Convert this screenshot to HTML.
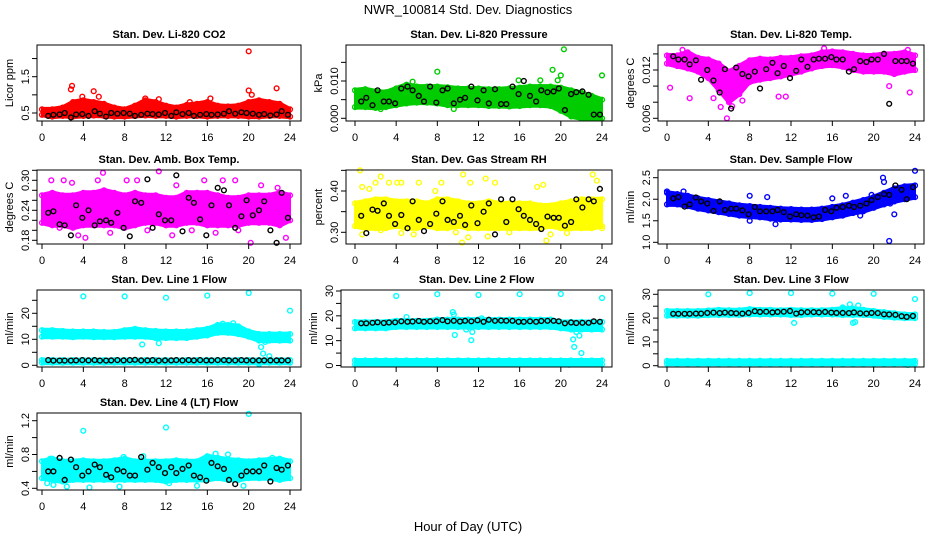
<!DOCTYPE html>
<html><head><meta charset="utf-8">
<style>
html,body{margin:0;padding:0;background:#fff;}
svg{display:block;font-family:"Liberation Sans",Arial,sans-serif;}
</style></head>
<body>
<svg id="chart" width="936" height="540" viewBox="0 0 936 540">
<rect x="0" y="0" width="936" height="540" fill="#fff"/>
<text x="468" y="14" text-anchor="middle" font-size="13">NWR_100814 Std. Dev. Diagnostics</text>
<text x="468" y="531" text-anchor="middle" font-size="13">Hour of Day (UTC)</text>
</svg>
<script>
// shared x values
const hours = [0,1,2,3,4,5,6,7,8,9,10,11,12,13,14,15,16,17,18,19,20,21,22,23,24];
const blkX = [0.6,1.1,1.7,2.2,2.8,3.3,3.9,4.5,5.1,5.6,6.2,6.7,7.3,7.9,8.5,9.0,9.6,10.2,10.7,11.3,11.9,12.5,13.0,13.6,14.2,14.7,15.3,15.9,16.4,17.0,17.6,18.1,18.7,19.3,19.8,20.4,21.0,21.5,22.1,22.7,23.2,23.8];
const xTicks = [0,4,8,12,16,20,24];

// P1 CO2
const p1Hi = [0.6,0.6,0.65,0.8,0.85,0.8,0.75,0.65,0.6,0.7,0.85,0.8,0.7,0.65,0.72,0.75,0.8,0.7,0.68,0.7,0.8,0.85,0.8,0.75,0.6];
const p1Lo = [0.45,0.4,0.42,0.4,0.42,0.43,0.42,0.4,0.4,0.42,0.43,0.42,0.42,0.4,0.42,0.42,0.4,0.42,0.42,0.42,0.4,0.4,0.42,0.42,0.4];
const p1Ox = [2.8,2.9,5,3.9,10,11.3,16.3,20,20,20.3,22.7,14.3,5.5];
const p1Oy = [1.15,1.25,1.1,0.95,0.9,0.88,0.9,2.2,1.12,1.0,1.18,0.8,0.95];
const p1Blk = [0.42,0.45,0.46,0.5,0.38,0.46,0.47,0.42,0.55,0.48,0.4,0.5,0.48,0.5,0.48,0.42,0.45,0.48,0.47,0.46,0.5,0.42,0.52,0.47,0.5,0.42,0.45,0.47,0.45,0.46,0.48,0.55,0.48,0.52,0.5,0.48,0.45,0.47,0.43,0.46,0.55,0.45];
// P2 Pressure
const p2Hi = [0.0075,0.0078,0.0072,0.007,0.008,0.009,0.0085,0.0085,0.0085,0.0083,0.008,0.008,0.008,0.0078,0.0078,0.008,0.0082,0.0085,0.0085,0.0085,0.0082,0.0075,0.0068,0.006,0.005];
const p2Lo = [0.003,0.003,0.0028,0.003,0.0035,0.004,0.0042,0.0042,0.004,0.0035,0.0035,0.0035,0.0035,0.0033,0.0033,0.0032,0.0033,0.0035,0.0035,0.0033,0.002,0.0005,0.0,0.0,0.0];
const p2Ox = [8,19.2,20.3,24,15.9,18,19.7,20,5.6,9.6,2.5];
const p2Oy = [0.0125,0.013,0.0185,0.0115,0.0102,0.0102,0.0102,0.0115,0.0098,0.0025,0.0025];
const p2Blk = [0.0045,0.0055,0.0035,0.0075,0.0045,0.0045,0.004,0.008,0.0085,0.0075,0.006,0.0045,0.0085,0.0042,0.0075,0.008,0.004,0.005,0.0055,0.0085,0.0048,0.0075,0.004,0.0078,0.0038,0.0038,0.0085,0.0065,0.01,0.006,0.0045,0.0075,0.007,0.0072,0.008,0.0022,0.0065,0.007,0.0072,0.0063,0.001,0.001];
// P3 Li-820 Temp
const p3Hi = [0.0138,0.0138,0.0142,0.0135,0.0133,0.0128,0.0118,0.0125,0.0132,0.0134,0.0133,0.0135,0.0135,0.0137,0.0138,0.0142,0.0143,0.0142,0.0140,0.0138,0.0138,0.0140,0.0140,0.0142,0.0138];
const p3Lo = [0.0128,0.0125,0.0122,0.0118,0.0110,0.0095,0.0080,0.0090,0.0105,0.0108,0.0110,0.0112,0.0115,0.0118,0.0122,0.0125,0.0126,0.0124,0.0120,0.0118,0.0118,0.0118,0.0115,0.0118,0.0120];
const p3Ox = [0.3,2.2,5.8,4.5,5.2,6.3,7.3,10.8,11.5,21.5,23.5,15.2,1.5,23.3];
const p3Oy = [0.0098,0.0085,0.006,0.0085,0.0074,0.0075,0.0082,0.0087,0.0087,0.0100,0.0092,0.0147,0.0145,0.0145];
const p3Blk = [0.0137,0.0133,0.0133,0.0127,0.0132,0.0108,0.012,0.0107,0.0092,0.0121,0.0072,0.0123,0.0115,0.0112,0.0118,0.0097,0.0121,0.0129,0.0116,0.0125,0.0110,0.0119,0.0133,0.0124,0.0133,0.0134,0.0134,0.0136,0.0133,0.0133,0.0118,0.0121,0.0131,0.013,0.0133,0.0133,0.0140,0.0078,0.0131,0.0131,0.0131,0.0128];
// P4 Amb Box Temp
const p4Hi = [0.27,0.275,0.27,0.27,0.275,0.275,0.28,0.275,0.27,0.275,0.27,0.27,0.265,0.265,0.275,0.275,0.275,0.27,0.265,0.265,0.27,0.27,0.27,0.275,0.27];
const p4Lo = [0.215,0.21,0.21,0.205,0.21,0.21,0.21,0.21,0.205,0.21,0.215,0.215,0.21,0.21,0.215,0.215,0.21,0.21,0.21,0.21,0.215,0.215,0.215,0.21,0.22];
const p4Ox = [0.9,2.1,2.9,3.5,5.9,5.4,8.2,9.2,11.3,12.6,13,15.7,17.5,18.7,20.2,23.6,22.8,6.6,1.7,14.5,10.2,19,4.2,16.8,21.2];
const p4Oy = [0.30,0.30,0.295,0.19,0.315,0.30,0.30,0.30,0.318,0.19,0.29,0.30,0.30,0.30,0.175,0.185,0.285,0.195,0.205,0.2,0.2,0.2,0.185,0.195,0.29];
const p4Blk = [0.235,0.238,0.212,0.21,0.19,0.25,0.225,0.24,0.21,0.218,0.22,0.215,0.235,0.205,0.188,0.258,0.255,0.302,0.205,0.232,0.22,0.22,0.31,0.198,0.265,0.255,0.222,0.19,0.25,0.285,0.28,0.25,0.205,0.228,0.26,0.23,0.24,0.258,0.2,0.175,0.275,0.225];
// P5 Gas Stream RH
const p5Hi = [0.37,0.375,0.38,0.38,0.375,0.375,0.375,0.37,0.38,0.38,0.375,0.37,0.37,0.375,0.37,0.37,0.37,0.37,0.365,0.365,0.37,0.375,0.38,0.38,0.38];
const p5Lo = [0.315,0.31,0.31,0.31,0.315,0.31,0.31,0.315,0.31,0.31,0.315,0.31,0.31,0.31,0.31,0.31,0.31,0.31,0.31,0.315,0.31,0.31,0.31,0.31,0.315];
const p5Ox = [0.5,0.7,1.4,2.5,3.3,4.1,4.5,6.2,8.4,10.5,11.2,12.7,13.6,18.3,23.1,23.5,0.7,2.5,4.5,5.7,9.8,10.4,11,12.9,15,18.6,19,20.6,24,7.8,17.7,2];
const p5Oy = [0.45,0.41,0.405,0.435,0.42,0.42,0.42,0.42,0.42,0.44,0.42,0.43,0.42,0.415,0.44,0.425,0.295,0.305,0.298,0.295,0.3,0.275,0.288,0.29,0.3,0.28,0.295,0.298,0.31,0.4,0.41,0.42];
const p5Blk = [0.34,0.298,0.355,0.352,0.37,0.34,0.32,0.342,0.31,0.375,0.33,0.303,0.32,0.345,0.375,0.33,0.325,0.34,0.318,0.365,0.322,0.35,0.37,0.295,0.38,0.325,0.38,0.356,0.34,0.33,0.32,0.308,0.338,0.335,0.335,0.316,0.325,0.38,0.36,0.38,0.375,0.405];
// P6 Sample Flow
const p6Hi = [2.15,2.12,2.08,2.02,1.98,1.94,1.9,1.86,1.84,1.82,1.8,1.78,1.77,1.76,1.76,1.78,1.82,1.86,1.92,1.98,2.05,2.15,2.25,2.3,2.32];
const p6Lo = [1.88,1.88,1.84,1.78,1.74,1.7,1.66,1.62,1.6,1.58,1.55,1.53,1.53,1.52,1.52,1.54,1.58,1.62,1.68,1.72,1.8,1.88,1.95,2.0,2.05];
const p6Ox = [0,1.6,8,9.7,10.5,16,17.3,19.8,20.9,21,21.5,22,21.6,24,23.8,8,18.7];
const p6Oy = [2.18,2.18,2.08,2.05,1.42,2.02,2.08,2.1,2.5,2.4,1.03,1.65,1.9,2.66,2.3,1.5,1.62];
const p6Blk = [2.02,2.05,1.83,1.88,2.04,1.95,1.9,1.73,1.95,1.75,1.78,1.78,1.74,1.65,1.82,1.72,1.72,1.72,1.75,1.7,1.6,1.65,1.63,1.62,1.58,1.6,1.75,1.72,1.8,1.82,1.85,1.82,1.85,1.9,1.98,2.05,2.12,2.1,2.32,2.22,2.0,2.28];
// P7 Line 1 Flow
const p7Hi = [13.5,13.5,13.2,13,13,13,12.8,12.8,13.5,14,13.5,13.2,13,13,13,13.5,14,15.5,15.5,15,13,12,12,12,12];
const p7Lo = [11,11,11,10.8,11,10.8,10.8,10.8,11,11,11,10.5,10.5,10.5,10.5,11,11.5,12.5,12.5,12,11,9.5,9.5,9.5,9.5];
const p7Hi2 = [2,2,2,2,2,2,2,2,2,2,2,2,2,2,2,2,2,2,2,2,2,2,2,2,2];
const p7Lo2 = [1,1,1,1,1,1,1,1,1,1,1,1,1,1,1,1,1,1,1,1,1,1,1,1,1];
const p7Ox = [4,8,12,16,20,24,9.7,11.3,21.2,21.4,22,21.6,21,17.5,18.5];
const p7Oy = [26.5,26.5,26,26.8,27.8,21,8,8.5,7,4.5,3.5,9,0.5,16,16.2];
const p7Blk = [2,1.8,1.8,1.8,1.8,1.9,2,1.9,2,1.8,1.8,1.9,2,1.9,2,2.1,1.9,1.9,2,1.8,1.9,1.9,2,1.9,2,1.9,2,1.9,1.9,2,2,1.9,1.9,2,1.9,1.9,1.9,1.9,1.9,1.9,1.9,1.9];
// P8 Line 2 Flow
const p8Hi = [17.5,17.5,17.5,17.5,18,18,18,18,18.5,18.5,18.5,18.5,18.5,18.5,18.5,18.5,18.5,18.5,18.5,18.5,17.5,17.5,17.5,17.5,17.5];
const p8Lo = [15,15,15,15,15.5,15.5,15.5,15.5,15.5,15.5,15.5,15.5,15.5,15.5,15.5,15.5,15.5,15.5,15.5,15.5,15,14.5,14.5,14.5,14.5];
const p8Hi2 = [2,2,2,2,2,2,2,2,2,2,2,2,2,2,2,2,2,2,2,2,2,2,2,2,2];
const p8Lo2 = [0.5,0.5,0.5,0.5,0.5,0.5,0.5,0.5,0.5,0.5,0.5,0.5,0.5,0.5,0.5,0.5,0.5,0.5,0.5,0.5,0.5,0.5,0.5,0.5,0.5];
const p8Ox = [4,8,12,16,20,24,9.5,9.6,5,9.7,11.3,11.4,10.8,21.2,21.3,22,21.5,21.8,20.8,12.3];
const p8Oy = [28,28.7,28.4,28.7,28.8,27.2,21.5,20.5,19.5,12.3,10.2,13.5,14.5,10.5,7.5,5,13.5,12,0.3,19];
const p8Blk = [17,17,17.2,17.4,17.1,17.3,17.4,17.8,17.6,17.7,17.9,17.6,17.8,17.8,18.3,17.8,18,17.7,18,17.8,18.2,17.6,18.4,18,18.1,18,18,17.6,17.6,17.8,17.6,17.9,18,18,17.8,17,17.3,17.1,17.2,17.2,17.8,17.6];
// P9 Line 3 Flow
const p9Hi = [23,23,23,23,23.2,23.5,23.3,23.3,23.8,23.5,23.5,23.3,23.5,23.3,23.3,23.3,23.5,24,24,23.5,23,22.5,22,21.5,21.5];
const p9Lo = [21,21,21,21,21.2,21.3,21.3,21.3,21.5,21.5,21.5,21.5,21.3,21.3,21.5,21.5,21.5,21.3,21.3,21.3,21,20.5,20.2,20,20];
const p9Hi2 = [2,2,2,2,2,2,2,2,2,2,2,2,2,2,2,2,2,2,2,2,2,2,2,2,2];
const p9Lo2 = [0.8,0.8,0.8,0.8,0.8,0.8,0.8,0.8,0.8,0.8,0.8,0.8,0.8,0.8,0.8,0.8,0.8,0.8,0.8,0.8,0.8,0.8,0.8,0.8,0.8];
const p9Ox = [4,8,12,16,20,24,12.3,18,18.2,17.7,18.5,17,23.3];
const p9Oy = [30,30.5,30.5,30.3,30.2,28,18,18,18.3,25.8,25.3,24.5,0.3];
const p9Blk = [21.8,21.8,21.8,21.8,21.9,21.9,22.2,22.3,22.1,22.3,22.2,22,21.9,22.2,22.9,22.6,22.7,22.4,22.6,22.7,23,21.9,22.4,22.5,22.5,22.4,22.6,22.3,22.2,22.2,22.1,22.4,22,21.9,22.2,22.1,21.6,21.5,21.4,20.8,20.5,20.9];
// P10 Line 4 (LT) Flow
const p10Hi = [0.72,0.75,0.72,0.72,0.73,0.72,0.72,0.73,0.75,0.72,0.72,0.72,0.72,0.73,0.72,0.72,0.78,0.76,0.74,0.73,0.72,0.73,0.74,0.75,0.72];
const p10Lo = [0.52,0.5,0.48,0.5,0.5,0.5,0.5,0.5,0.5,0.5,0.5,0.5,0.48,0.5,0.5,0.5,0.5,0.52,0.5,0.5,0.52,0.52,0.52,0.5,0.52];
const p10Ox = [4,12,20,2.4,4.6,7.5,15,19.5,0.5,1.1,12.3,0.8,9.8,16.8,18,7.9,22.3];
const p10Oy = [1.08,1.12,1.28,0.42,0.41,0.42,0.43,0.43,0.46,0.44,0.46,0.75,0.78,0.81,0.8,0.77,0.76];
const p10Blk = [0.6,0.6,0.76,0.5,0.74,0.65,0.55,0.6,0.68,0.65,0.56,0.53,0.62,0.6,0.55,0.55,0.77,0.62,0.7,0.65,0.58,0.65,0.58,0.63,0.67,0.55,0.53,0.49,0.7,0.66,0.63,0.5,0.45,0.55,0.6,0.6,0.6,0.67,0.48,0.64,0.62,0.67];

// tick values and labels
const p1Ticks = [0.5,1,1.5,2], p1Labels = ['0.5','','1.5',''];
const p2Ticks = [0,0.005,0.01,0.015], p2Labels = ['0.000','','0.010',''];
const p3Ticks = [0.006,0.008,0.01,0.012,0.014], p3Labels = ['0.006','','','0.012',''];
const p4Ticks = [0.18,0.2,0.22,0.24,0.26,0.28,0.3,0.32], p4Labels = ['0.18','','','0.24','','','0.30',''];
const p5Ticks = [0.3,0.35,0.4,0.45], p5Labels = ['0.30','','0.40',''];
const p6Ticks = [1,1.5,2,2.5], p6Labels = ['1.0','1.5','2.0','2.5'];
const p7Ticks = [0,5,10,15,20,25], p7Labels = ['0','','10','','20',''];
const p8Ticks = [0,5,10,15,20,25,30], p8Labels = ['0','','10','','20','','30'];
const p9Ticks = [0,5,10,15,20,25,30], p9Labels = ['0','','10','','20','','30'];
const p10Ticks = [0.4,0.6,0.8,1,1.2], p10Labels = ['0.4','','0.8','','1.2'];

const NS = 'http://www.w3.org/2000/svg';
const svg = document.getElementById('chart');
function mk(tag, attrs, parent) {
  const e = document.createElementNS(NS, tag);
  for (const k in attrs) e.setAttribute(k, attrs[k]);
  (parent || svg).appendChild(e);
  return e;
}

const panels = [
 {key:'co2', title:'Stan. Dev. Li-820 CO2', ylab:'Licor ppm', box:[37,45,301,121], x0:42, x24:290, r1:[0.5,113], r2:[1.5,76.7], color:'#ff0000', bands:[[p1Lo,p1Hi]], ox:p1Ox, oy:p1Oy, blk:p1Blk, ticks:p1Ticks, labels:p1Labels},
 {key:'pressure', title:'Stan. Dev. Li-820 Pressure', ylab:'kPa', box:[346,45,612,121], x0:355, x24:602, r1:[0,118.3], r2:[0.01,81], color:'#00cc00', bands:[[p2Lo,p2Hi]], ox:p2Ox, oy:p2Oy, blk:p2Blk, ticks:p2Ticks, labels:p2Labels},
 {key:'li-temp', title:'Stan. Dev. Li-820 Temp.', ylab:'degrees C', box:[658,45,924,121], x0:667, x24:915, r1:[0.006,118.3], r2:[0.012,70], color:'#ff00ff', bands:[[p3Lo,p3Hi]], ox:p3Ox, oy:p3Oy, blk:p3Blk, ticks:p3Ticks, labels:p3Labels},
 {key:'amb-box-temp', title:'Stan. Dev. Amb. Box Temp.', ylab:'degrees C', box:[37,170,301,244], x0:42, x24:290, r1:[0.30,180.3], r2:[0.18,240.3], color:'#ff00ff', bands:[[p4Lo,p4Hi]], ox:p4Ox, oy:p4Oy, blk:p4Blk, ticks:p4Ticks, labels:p4Labels},
 {key:'gas-rh', title:'Stan. Dev. Gas Stream RH', ylab:'percent', box:[346,170,612,244], x0:355, x24:602, r1:[0.40,191], r2:[0.30,232.3], color:'#ffff00', bands:[[p5Lo,p5Hi]], ox:p5Ox, oy:p5Oy, blk:p5Blk, ticks:p5Ticks, labels:p5Labels},
 {key:'sample-flow', title:'Stan. Dev. Sample Flow', ylab:'ml/min', box:[658,170,924,244], x0:667, x24:915, r1:[1.0,242.3], r2:[2.5,177.7], color:'#0000ff', bands:[[p6Lo,p6Hi]], ox:p6Ox, oy:p6Oy, blk:p6Blk, ticks:p6Ticks, labels:p6Labels},
 {key:'line1-flow', title:'Stan. Dev. Line 1 Flow', ylab:'ml/min', box:[37,290,301,367], x0:42, x24:290, r1:[0,365.3], r2:[20,313.3], color:'#00ffff', bands:[[p7Lo,p7Hi],[p7Lo2,p7Hi2]], ox:p7Ox, oy:p7Oy, blk:p7Blk, ticks:p7Ticks, labels:p7Labels},
 {key:'line2-flow', title:'Stan. Dev. Line 2 Flow', ylab:'ml/min', box:[341,290,612,367], x0:355, x24:602, r1:[0,365.5], r2:[30,291], color:'#00ffff', bands:[[p8Lo,p8Hi],[p8Lo2,p8Hi2]], ox:p8Ox, oy:p8Oy, blk:p8Blk, ticks:p8Ticks, labels:p8Labels},
 {key:'line3-flow', title:'Stan. Dev. Line 3 Flow', ylab:'ml/min', box:[658,290,924,367], x0:667, x24:915, r1:[0,365.7], r2:[30,294.3], color:'#00ffff', bands:[[p9Lo,p9Hi],[p9Lo2,p9Hi2]], ox:p9Ox, oy:p9Oy, blk:p9Blk, ticks:p9Ticks, labels:p9Labels},
 {key:'line4-flow', title:'Stan. Dev. Line 4 (LT) Flow', ylab:'ml/min', box:[37,413,301,490], x0:42, x24:290, r1:[0.4,488.3], r2:[1.2,420.7], color:'#00ffff', bands:[[p10Lo,p10Hi]], ox:p10Ox, oy:p10Oy, blk:p10Blk, ticks:p10Ticks, labels:p10Labels}
];

function circle(g, cx, cy, color, name) {
  const c = mk('circle', {cx:cx.toFixed(1), cy:cy.toFixed(1), r:2.4, fill:'none', stroke:color, 'stroke-width':1.4}, g);
  
  
  return c;
}

panels.forEach(p => {
  const g = mk('g', {});
  
  
  const [L,T,R,B] = p.box;
  const xs = h => p.x0 + (p.x24 - p.x0) * h / 24;
  const ys = v => p.r1[1] + (v - p.r1[0]) * (p.r2[1] - p.r1[1]) / (p.r2[0] - p.r1[0]);

  // bands
  p.bands.forEach((b, bi) => {
    const lo = b[0], hi = b[1];
    let pts = [];
    hours.forEach((h,i) => pts.push(xs(h).toFixed(1)+','+(ys(hi[i])-1.5).toFixed(1)));
    for (let i = hours.length-1; i >= 0; i--) pts.push(xs(hours[i]).toFixed(1)+','+(ys(lo[i])+1.5).toFixed(1));
    const poly = mk('polygon', {points:pts.join(' '), fill:p.color, stroke:p.color, 'stroke-width':2, 'stroke-linejoin':'round'}, g);
    
    
    hours.forEach((h,i) => {
      circle(g, xs(h), ys(hi[i]), p.color, p.key + '-band-point');
      circle(g, xs(h), ys(lo[i]), p.color, p.key + '-band-point');
    });
  });
  // outliers
  p.ox.forEach((x,i) => circle(g, xs(x), ys(p.oy[i]), p.color, p.key + '-outlier-point'));
  // black hourly means
  p.blk.forEach((v,i) => circle(g, xs(blkX[i]), ys(v), '#000', p.key + '-hourly-point'));

  // box
  const box = mk('rect', {x:L, y:T, width:R-L, height:B-T, fill:'none', stroke:'#000', 'stroke-width':1}, g);
  
  

  // x axis
  const xa = mk('g', {}, g);
  
  
  mk('line', {x1:xs(0), x2:xs(24), y1:B, y2:B, stroke:'#000'}, xa);
  xTicks.forEach(t => {
    mk('line', {x1:xs(t), x2:xs(t), y1:B, y2:B+5, stroke:'#000'}, xa);
    const tx = mk('text', {x:xs(t), y:B+20, 'text-anchor':'middle', 'font-size':11}, xa);
    tx.textContent = t;
    
    
  });
  // y axis
  const ya = mk('g', {}, g);
  
  
  mk('line', {x1:L, x2:L, y1:ys(p.ticks[0]), y2:ys(p.ticks[p.ticks.length-1]), stroke:'#000'}, ya);
  p.ticks.forEach((t,i) => {
    const y = ys(t);
    mk('line', {x1:L-5, x2:L, y1:y, y2:y, stroke:'#000'}, ya);
    if (p.labels[i]) {
      const tx = mk('text', {x:L-8, y:y, 'text-anchor':'middle', 'font-size':11, transform:'rotate(-90 '+(L-8)+' '+y+')'}, ya);
      tx.textContent = p.labels[i];
      
      
    }
  });
  const yc = (T+B)/2;
  const yl = mk('text', {x:L-24, y:yc, 'text-anchor':'middle', 'font-size':11, transform:'rotate(-90 '+(L-24)+' '+yc+')'}, g);
  yl.textContent = p.ylab;
  
  
  const tt = mk('text', {x:(L+R)/2, y:T-7, 'text-anchor':'middle', 'font-size':11, 'font-weight':'bold'}, g);
  tt.textContent = p.title;
  
  
});
</script>
</body></html>
